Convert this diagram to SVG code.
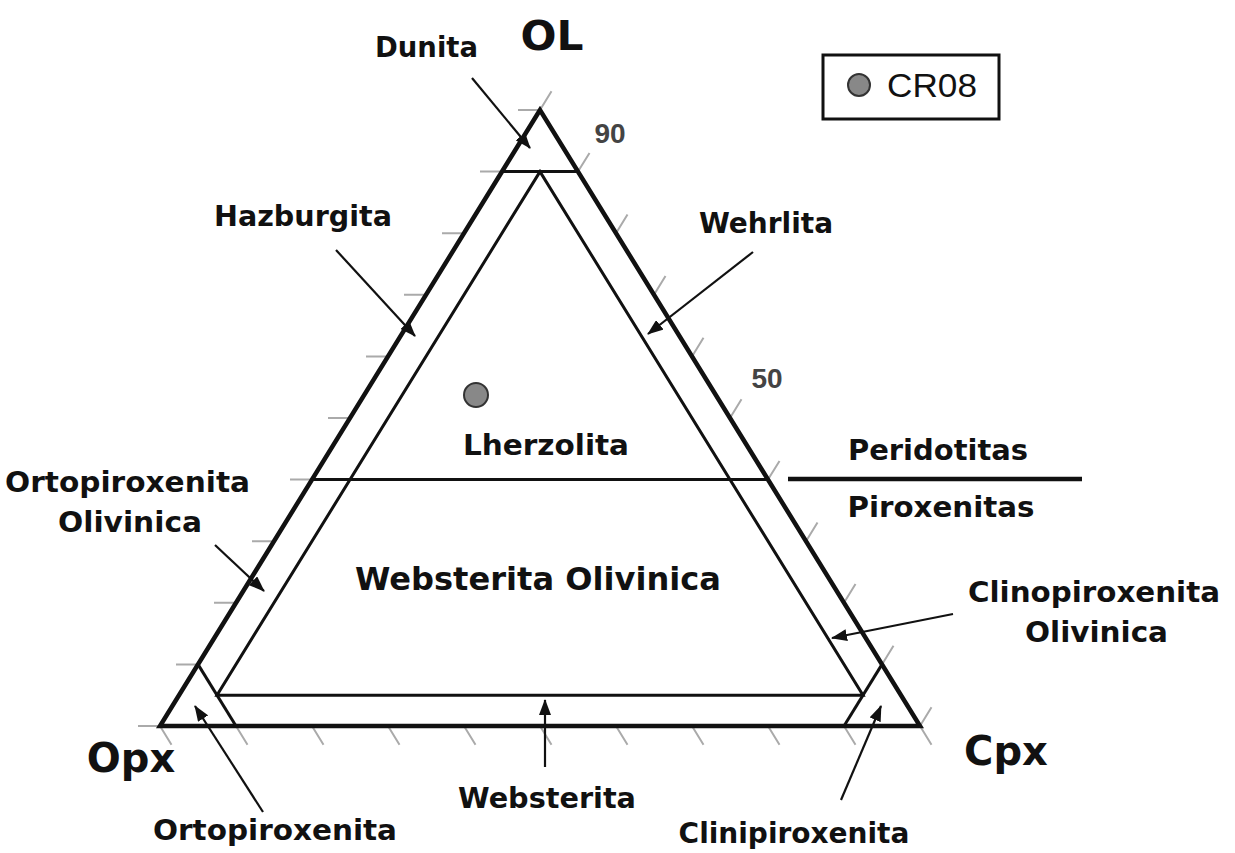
<svg xmlns="http://www.w3.org/2000/svg" width="1235" height="853" viewBox="0 0 1235 853">
<style>
.lbl{font-family:"DejaVu Sans","Liberation Sans",sans-serif;font-weight:bold;font-size:28px;fill:#111;text-anchor:middle}
.big{font-size:40px}
.num{font-family:"Liberation Sans",Arial,sans-serif;font-weight:bold;font-size:28px;fill:#444;text-anchor:middle}
.tick{stroke:#aaa;stroke-width:2;fill:none}
.outer{stroke:#111;stroke-width:4.5;fill:none;stroke-linejoin:miter}
.inner{stroke:#111;stroke-width:3;fill:none}
.arr{stroke:#111;stroke-width:2.2;fill:none;marker-end:url(#ah)}
</style>
<defs>
<marker id="ah" markerUnits="userSpaceOnUse" markerWidth="16" markerHeight="12" refX="15" refY="6" orient="auto">
<path d="M0,0 L16,6 L0,12 Z" fill="#111"/>
</marker>
</defs>
<rect width="1235" height="853" fill="#fff"/>
<g id="ticks">
<path class="tick" d="M540,110h-22M502,171.6h-22M464,233.2h-22M426,294.8h-22M388,356.4h-22M350,418h-22M312,479.6h-22M274,541.2h-22M236,602.8h-22M198,664.4h-22M160,726h-22"/>
<path class="tick" d="M540,110l11.5,-18.7M578,171.6l11.5,-18.7M616,233.2l11.5,-18.7M654,294.8l11.5,-18.7M692,356.4l11.5,-18.7M730,418l11.5,-18.7M768,479.6l11.5,-18.7M806,541.2l11.5,-18.7M844,602.8l11.5,-18.7M882,664.4l11.5,-18.7M920,726l11.5,-18.7"/>
<path class="tick" d="M160,726l11.5,18.7M236,726l11.5,18.7M312,726l11.5,18.7M388,726l11.5,18.7M464,726l11.5,18.7M540,726l11.5,18.7M616,726l11.5,18.7M692,726l11.5,18.7M768,726l11.5,18.7M844,726l11.5,18.7M920,726l11.5,18.7"/>
</g>
<g id="triangle">
<polygon class="outer" points="540,110 160,726 920,726"/>
<polygon class="inner" points="540,171.6 217,695.2 863,695.2"/>
<line class="inner" x1="502" y1="171.6" x2="578" y2="171.6"/>
<line class="inner" x1="198" y1="664.4" x2="236" y2="726"/>
<line class="inner" x1="882" y1="664.4" x2="844" y2="726"/>
<line class="inner" x1="312" y1="479.6" x2="768" y2="479.6"/>
</g>
<g id="connectors">
<line class="arr" x1="472" y1="78" x2="530" y2="148"/>
<line class="arr" x1="336" y1="250" x2="415" y2="336"/>
<line class="arr" x1="753" y1="252" x2="648" y2="334"/>
<line class="arr" x1="215" y1="545" x2="264" y2="591"/>
<line class="arr" x1="953" y1="614" x2="832" y2="638"/>
<line class="arr" x1="545" y1="767" x2="545" y2="700"/>
<line class="arr" x1="263" y1="812" x2="195" y2="706"/>
<line class="arr" x1="841" y1="800" x2="881" y2="706"/>
<line stroke="#111" stroke-width="4.5" x1="788" y1="479" x2="1082" y2="479"/>
</g>
<g id="vertex-labels">
<text class="lbl big" x="552" y="50" textLength="63" lengthAdjust="spacingAndGlyphs">OL</text>
<text class="lbl big" x="131" y="772">Opx</text>
<text class="lbl big" x="1006" y="765">Cpx</text>
<text class="num" x="610" y="143">90</text>
<text class="num" x="767" y="388">50</text>
</g>
<g id="node-dunita"><text class="lbl" x="426.5" y="57" textLength="103" lengthAdjust="spacingAndGlyphs">Dunita</text></g>
<g id="node-hazburgita"><text class="lbl" x="303" y="226" textLength="178" lengthAdjust="spacingAndGlyphs">Hazburgita</text></g>
<g id="node-wehrlita"><text class="lbl" x="766" y="233">Wehrlita</text></g>
<g id="node-lherzolita"><text class="lbl" x="546" y="455" textLength="166" lengthAdjust="spacingAndGlyphs">Lherzolita</text></g>
<g id="node-peridotitas"><text class="lbl" x="938" y="460" textLength="180" lengthAdjust="spacingAndGlyphs">Peridotitas</text></g>
<g id="node-piroxenitas"><text class="lbl" x="941" y="517" textLength="187" lengthAdjust="spacingAndGlyphs">Piroxenitas</text></g>
<g id="node-ortopiroxenita-olivinica">
<text class="lbl" x="127.5" y="492" textLength="245" lengthAdjust="spacingAndGlyphs">Ortopiroxenita</text>
<text class="lbl" x="130" y="532" textLength="144" lengthAdjust="spacingAndGlyphs">Olivinica</text>
</g>
<g id="node-websterita-olivinica"><text class="lbl" x="538" y="590" style="font-size:32px" textLength="366" lengthAdjust="spacingAndGlyphs">Websterita Olivinica</text></g>
<g id="node-clinopiroxenita-olivinica">
<text class="lbl" x="1094" y="602" textLength="252" lengthAdjust="spacingAndGlyphs">Clinopiroxenita</text>
<text class="lbl" x="1096.5" y="642" textLength="143" lengthAdjust="spacingAndGlyphs">Olivinica</text>
</g>
<g id="node-websterita"><text class="lbl" x="547" y="808" textLength="178" lengthAdjust="spacingAndGlyphs">Websterita</text></g>
<g id="node-ortopiroxenita"><text class="lbl" x="275" y="840" textLength="244" lengthAdjust="spacingAndGlyphs">Ortopiroxenita</text></g>
<g id="node-clinipiroxenita"><text class="lbl" x="794" y="843">Clinipiroxenita</text></g>
<g id="sample-cr08"><circle cx="476" cy="395" r="12" fill="#888" stroke="#333" stroke-width="2"/></g>
<g id="legend">
<rect x="823" y="55" width="176" height="64" fill="#fff" stroke="#111" stroke-width="3"/>
<circle cx="859" cy="85" r="11" fill="#888" stroke="#333" stroke-width="2"/>
<text x="887" y="97" textLength="90" lengthAdjust="spacingAndGlyphs" style="font-family:'Liberation Sans',Arial,sans-serif;font-size:33px;fill:#111">CR08</text>
</g>
</svg>
